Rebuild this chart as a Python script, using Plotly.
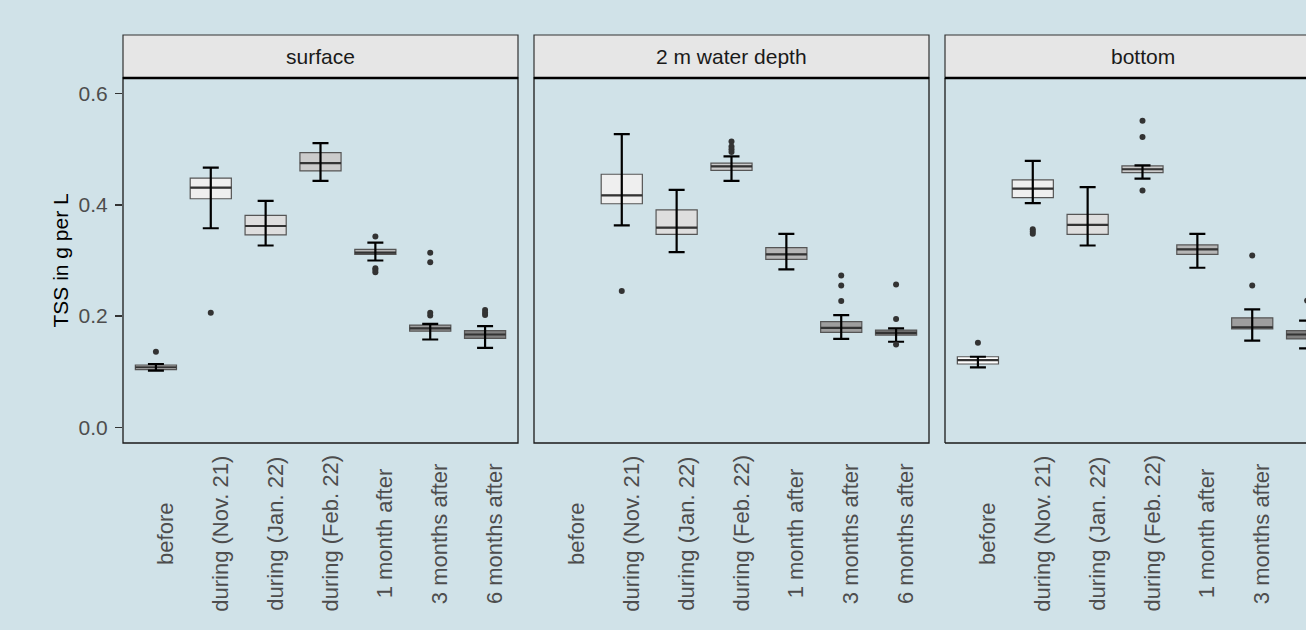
import plotly.graph_objects as go

categories = ["before", "during (Nov. 21)", "during (Jan. 22)", "during (Feb. 22)",
              "1 month after", "3 months after", "6 months after"]
panels = ["surface", "2 m water depth", "bottom"]

# surface
surface_lower = [0.102, 0.358, 0.327, 0.443, 0.300, 0.158, 0.143]
surface_q1 = [0.104, 0.411, 0.346, 0.461, 0.311, 0.173, 0.160]
surface_median = [0.108, 0.431, 0.362, 0.475, 0.314, 0.178, 0.167]
surface_q3 = [0.112, 0.448, 0.381, 0.494, 0.320, 0.184, 0.174]
surface_upper = [0.114, 0.467, 0.407, 0.511, 0.332, 0.186, 0.182]
surface_outliers = [[0.136], [0.206], [], [], [0.343, 0.286, 0.283, 0.279],
                    [0.314, 0.297, 0.206, 0.201], [0.211, 0.206, 0.202]]

# 2 m water depth
depth2_lower = [None, 0.363, 0.315, 0.443, 0.284, 0.159, 0.154]
depth2_q1 = [None, 0.402, 0.347, 0.462, 0.302, 0.171, 0.166]
depth2_median = [None, 0.417, 0.359, 0.469, 0.311, 0.179, 0.170]
depth2_q3 = [None, 0.455, 0.391, 0.475, 0.323, 0.190, 0.175]
depth2_upper = [None, 0.527, 0.427, 0.487, 0.348, 0.202, 0.178]
depth2_outliers = [[], [0.245], [], [0.514, 0.505, 0.500, 0.495], [],
                   [0.273, 0.255, 0.227], [0.257, 0.195, 0.149]]

# bottom
bottom_lower = [0.108, 0.403, 0.327, 0.447, 0.287, 0.156, 0.142]
bottom_q1 = [0.114, 0.413, 0.347, 0.458, 0.311, 0.177, 0.159]
bottom_median = [0.121, 0.429, 0.364, 0.464, 0.320, 0.180, 0.167]
bottom_q3 = [0.127, 0.445, 0.383, 0.470, 0.328, 0.197, 0.174]
bottom_upper = [0.127, 0.479, 0.432, 0.471, 0.348, 0.212, 0.192]
bottom_outliers = [[0.152], [0.356, 0.352, 0.348], [], [0.551, 0.522, 0.426], [],
                   [0.309, 0.255], [0.228]]

y_ticks = [0.0, 0.2, 0.4, 0.6]
y_title = "TSS in g per L"

panel_data = [
    (surface_lower, surface_q1, surface_median, surface_q3, surface_upper, surface_outliers),
    (depth2_lower, depth2_q1, depth2_median, depth2_q3, depth2_upper, depth2_outliers),
    (bottom_lower, bottom_q1, bottom_median, bottom_q3, bottom_upper, bottom_outliers),
]

# ---- styles / layout ----
BG = "#d0e2e8"
FONT = "Liberation Sans, Arial, sans-serif"
fills = ["#ffffff", "#efefef", "#dedede", "#cbcbcb", "#b6b6b6", "#9e9e9e", "#808080"]
BOX_W = 0.75
W, H = 1306, 630
ML, MR, MT, MB = 123, 0, 78, 187
PW = W - ML - MR   # plot width px
PH = H - MT - MB   # plot height px
panel_px = 395
gap_px = 16
xr_full = [0.4, len(categories) + 0.6]
units_per_px = (xr_full[1] - xr_full[0]) / panel_px

fig = go.Figure()

for p, (lo, q1, med, q3, up, outs) in enumerate(panel_data):
    ax = "" if p == 0 else str(p + 1)
    xa, ya = "x" + ax, "y" + ax
    # boxes
    for i in range(len(categories)):
        if med[i] is None:
            continue
        fig.add_trace(go.Box(
            x=[i + 1], q1=[q1[i]], median=[med[i]], q3=[q3[i]],
            lowerfence=[q1[i]], upperfence=[q3[i]],
            width=BOX_W, whiskerwidth=0, fillcolor=fills[i],
            line=dict(color="#555555", width=1.2),
            boxpoints=False, hoverinfo="skip", showlegend=False,
            xaxis=xa, yaxis=ya))
    # medians
    mx, my = [], []
    for i in range(len(categories)):
        if med[i] is None:
            continue
        mx += [i + 1 - BOX_W / 2, i + 1 + BOX_W / 2, None]
        my += [med[i], med[i], None]
    fig.add_trace(go.Scatter(x=mx, y=my, mode="lines",
                             line=dict(color="#333333", width=2.2),
                             hoverinfo="skip", showlegend=False, xaxis=xa, yaxis=ya))
    # error bars (whiskers)
    ex, ey, ep, em = [], [], [], []
    for i in range(len(categories)):
        if med[i] is None:
            continue
        ex.append(i + 1)
        ey.append(med[i])
        ep.append(up[i] - med[i])
        em.append(med[i] - lo[i])
    fig.add_trace(go.Scatter(
        x=ex, y=ey, mode="markers",
        marker=dict(size=1, color="rgba(0,0,0,0)"),
        error_y=dict(type="data", symmetric=False, array=ep, arrayminus=em,
                     color="#000000", thickness=2.2, width=8),
        hoverinfo="skip", showlegend=False, xaxis=xa, yaxis=ya))
    # outliers
    ox, oy = [], []
    for i in range(len(categories)):
        for v in outs[i]:
            ox.append(i + 1)
            oy.append(v)
    fig.add_trace(go.Scatter(x=ox, y=oy, mode="markers",
                             marker=dict(size=6, color="#333333"),
                             hoverinfo="skip", showlegend=False, xaxis=xa, yaxis=ya))

# axis domains in paper units
doms = []
for p in range(3):
    x0 = p * (panel_px + gap_px)
    x1 = min(x0 + panel_px, PW)
    doms.append((x0 / PW, x1 / PW, x1 - x0))

y_range = [-0.028, 0.628]
layout = dict(
    width=W, height=H,
    margin=dict(l=ML, r=MR, t=MT, b=MB, pad=0),
    paper_bgcolor=BG, plot_bgcolor=BG,
    boxmode="overlay",
    font=dict(family=FONT, size=21, color="#4d4d4d"),
    showlegend=False,
)
shapes = []
annotations = []
strip_top = 1 + (MT - 35) / PH
for p in range(3):
    ax = "" if p == 0 else str(p + 1)
    d0, d1, wpx = doms[p]
    xr = [xr_full[0], xr_full[0] + wpx * units_per_px]
    layout["xaxis" + ax] = dict(domain=[d0, d1], range=xr, showgrid=False, zeroline=False,
                                showticklabels=False, ticks="", fixedrange=True)
    yd = dict(domain=[0, 1], range=y_range, showgrid=False, zeroline=False,
              anchor="x" + ax, fixedrange=True)
    if p == 0:
        yd.update(tickvals=y_ticks, tickformat=".1f", ticks="outside", ticklen=7,
                  tickwidth=1.3, tickcolor="#333333", ticklabelstandoff=3,
                  tickfont=dict(size=21, color="#4d4d4d", family=FONT))
    else:
        yd.update(showticklabels=False, ticks="", matches="y")
    layout["yaxis" + ax] = yd
    layout["xaxis" + ax]["anchor"] = "y" + ax

    full_right = 1.0 if p < 2 else 1.05
    xref_dom = ("x" + ax) + " domain"
    yref_dom = ("y" + ax) + " domain"
    # strip
    shapes.append(dict(type="rect", xref=xref_dom, yref="paper",
                       x0=0, x1=full_right, y0=1, y1=strip_top,
                       fillcolor="#e6e6e6", line=dict(color="#333333", width=1.2),
                       layer="above"))
    # panel border
    if p < 2:
        shapes.append(dict(type="rect", xref=xref_dom, yref=yref_dom,
                           x0=0, x1=1, y0=0, y1=1,
                           line=dict(color="#1a1a1a", width=1.3), layer="above"))
    else:
        shapes.append(dict(type="line", xref=xref_dom, yref=yref_dom,
                           x0=0, x1=0, y0=0, y1=1,
                           line=dict(color="#1a1a1a", width=1.3), layer="above"))
        shapes.append(dict(type="line", xref=xref_dom, yref=yref_dom,
                           x0=0, x1=1.05, y0=0, y1=0,
                           line=dict(color="#1a1a1a", width=1.3), layer="above"))
    shapes.append(dict(type="line", xref=xref_dom, yref=yref_dom,
                       x0=0, x1=full_right, y0=1, y1=1,
                       line=dict(color="#000000", width=2.4), layer="above"))
    # strip label centred on full panel (in data coordinates)
    annotations.append(dict(text=panels[p], xref="x" + ax, yref="paper",
                            x=(xr_full[0] + xr_full[1]) / 2,
                            y=1 + (MT - 56.5) / PH, showarrow=False,
                            xanchor="center", yanchor="middle",
                            font=dict(size=21, color="#1a1a1a", family=FONT)))
    # x category labels, rotated
    for i, c in enumerate(categories):
        if i + 1 > xr[1]:
            continue
        annotations.append(dict(text=c, xref="x" + ax, yref="paper",
                                x=i + 1, y=(PH - (533.5 - MT)) / PH,
                                showarrow=False, textangle=-90,
                                xanchor="left", yanchor="middle", xshift=-5,
                                font=dict(size=22, color="#4d4d4d", family=FONT)))

annotations.append(dict(text=y_title, xref="paper", yref="paper",
                        x=(60 - ML) / PW, y=0.5, showarrow=False, textangle=-90,
                        xanchor="center", yanchor="middle",
                        font=dict(size=21, color="#000000", family=FONT)))

layout["shapes"] = shapes
layout["annotations"] = annotations
fig.update_layout(**layout)
fig.write_html(
    "out.html",
    config={"displayModeBar": False, "staticPlot": True},
    post_script="document.body.style.margin='0';document.body.style.overflow='hidden';"
                "document.body.style.background='" + BG + "';",
)
